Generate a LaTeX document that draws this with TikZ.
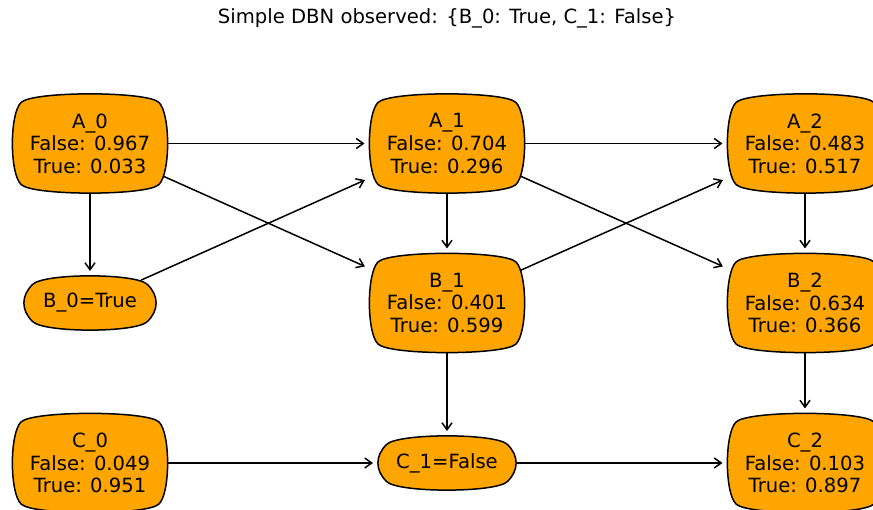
\documentclass[tikz,border=0pt]{standalone}
\usepackage{fontspec}
\setmainfont{DejaVu Sans}
\usetikzlibrary{arrows.meta,calc}
\definecolor{boxorange}{HTML}{FFA500}
\pgfdeclarelayer{arrowlayer}
\pgfdeclarelayer{boxlayer}
\pgfsetlayers{arrowlayer,boxlayer,main}
\tikzset{
  txt/.style={font=\fontsize{19.6}{22.6}\selectfont, align=center, inner sep=0pt, outer sep=0pt},
  bigbox/.style={txt, minimum width=155pt, minimum height=99pt},
  obsB/.style={txt, minimum width=132pt, minimum height=54pt},
  obsC/.style={txt, minimum width=138pt, minimum height=54pt},
  boxline/.style={draw=black, fill=boxorange, line width=1.5pt},
  arr/.style={draw=black, line width=1.5pt, -{Straight Barb[length=7pt,width=10pt,line width=1.5pt]}, shorten >=5pt, shorten <=-10pt},
}
\newcommand\roundfour[1]{%
  \draw[boxline]
    ($(#1.south west)+(8.5,8.5)$) coordinate (sw)
    ($(#1.south east)+(-8.5,8.5)$) coordinate (se)
    ($(#1.north east)+(-8.5,-8.5)$) coordinate (ne)
    ($(#1.north west)+(8.5,-8.5)$) coordinate (nw)
    (sw) .. controls +(11.5,-11.5) and +(-11.5,-11.5) .. (se)
         .. controls +(11.5,11.5) and +(11.5,-11.5) .. (ne)
         .. controls +(-11.5,11.5) and +(11.5,11.5) .. (nw)
         .. controls +(-11.5,-11.5) and +(-11.5,11.5) .. (sw) -- cycle;}
\begin{document}
\begin{tikzpicture}[x=1pt,y=1pt]
\useasboundingbox (0,0) rectangle (873,510);
\clip (0,0) rectangle (873,510);
\node[txt] (title) at (447,492) {Simple DBN observed: \{B\_0: True, C\_1: False\}};
\node[bigbox] (A0) at (90,366.5) {A\_0\\False: 0.967\\True: 0.033};
\node[obsB] (B0) at (90,207) {B\_0=True};
\node[bigbox] (C0) at (90,47) {C\_0\\False: 0.049\\True: 0.951};
\node[bigbox] (A1) at (447,366.5) {A\_1\\False: 0.704\\True: 0.296};
\node[bigbox] (B1) at (447,207) {B\_1\\False: 0.401\\True: 0.599};
\node[obsC] (C1) at (447,47) {C\_1=False};
\node[bigbox] (A2) at (805,366.5) {A\_2\\False: 0.483\\True: 0.517};
\node[bigbox] (B2) at (805,207) {B\_2\\False: 0.634\\True: 0.366};
\node[bigbox] (C2) at (805,47) {C\_2\\False: 0.103\\True: 0.897};
\begin{pgfonlayer}{boxlayer}
\foreach \n in {A0,B0,C0,A1,B1,C1,A2,B2,C2}{\roundfour{\n}}
\end{pgfonlayer}
\begin{pgfonlayer}{arrowlayer}
\draw[arr] (A0) -- (A1);
\draw[arr] (A0) -- (B1);
\draw[arr] (A0) -- (B0);
\draw[arr] (B0) -- (A1);
\draw[arr] (A1) -- (A2);
\draw[arr] (A1) -- (B1);
\draw[arr] (A1) -- (B2);
\draw[arr] (B1) -- (A2);
\draw[arr] (B1) -- (C1);
\draw[arr] (A2) -- (B2);
\draw[arr] (B2) -- (C2);
\draw[arr] (C0) -- (C1);
\draw[arr] (C1) -- (C2);
\end{pgfonlayer}
\end{tikzpicture}
\end{document}
